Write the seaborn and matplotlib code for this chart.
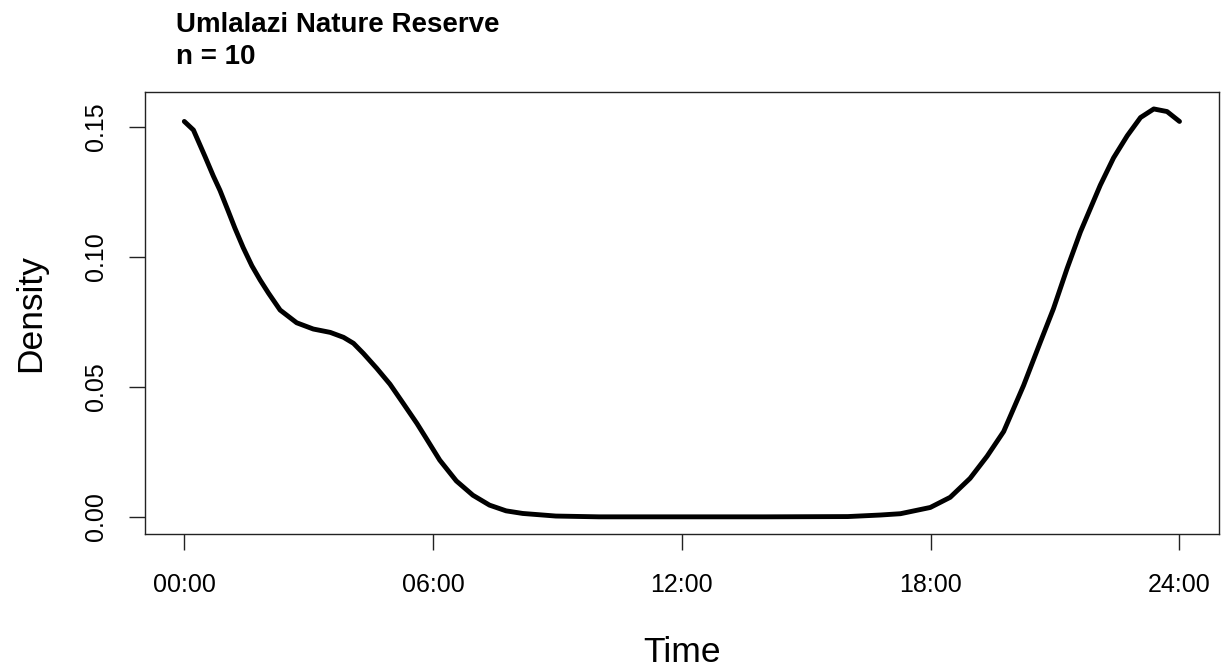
import numpy as np
import pandas as pd
import seaborn as sns
import matplotlib
matplotlib.use("Agg")
import matplotlib.pyplot as plt

# ---- data ----
hours = [0.00, 0.22, 0.50, 0.70, 0.86, 1.06, 1.22, 1.42, 1.63, 1.83, 2.03, 2.31,
         2.71, 3.11, 3.52, 3.84, 4.08, 4.32, 4.64, 4.96, 5.28, 5.61, 5.81, 6.16,
         6.56, 6.96, 7.36, 7.76, 8.16, 8.96, 10.0, 12.0, 14.0, 16.0, 16.79, 17.27,
         17.99, 18.47, 18.95, 19.36, 19.76, 20.24, 20.64, 20.96, 21.29, 21.61,
         21.85, 22.09, 22.41, 22.74, 23.06, 23.38, 23.70, 24.00]
density = [0.1520, 0.1487, 0.1385, 0.1310, 0.1255, 0.1175, 0.1110, 0.1035, 0.0965,
           0.0910, 0.0860, 0.0795, 0.0746, 0.0722, 0.0709, 0.0690, 0.0667, 0.0628,
           0.0571, 0.0510, 0.0436, 0.0359, 0.0308, 0.0218, 0.0138, 0.0083, 0.0045,
           0.0023, 0.0013, 0.0003, 0.0000, 0.0000, 0.0000, 0.0001, 0.0007, 0.0012,
           0.0036, 0.0075, 0.0148, 0.0233, 0.0328, 0.0505, 0.0670, 0.0800, 0.0955,
           0.1095, 0.1185, 0.1275, 0.1380, 0.1465, 0.1535, 0.1568, 0.1558, 0.1520]
xticks = [0, 6, 12, 18, 24]
xtick_labels = ["00:00", "06:00", "12:00", "18:00", "24:00"]
yticks = [0.00, 0.05, 0.10, 0.15]
ytick_labels = ["0.00", "0.05", "0.10", "0.15"]
title_line1 = "Umlalazi Nature Reserve"
title_line2 = "n = 10"

df = pd.DataFrame({"Time": hours, "Density": density})

sns.set_theme(style="white")
plt.rcParams["font.family"] = ["Liberation Sans", "DejaVu Sans"]
plt.rcParams["text.color"] = "black"
plt.rcParams["axes.labelcolor"] = "black"

W, H = 1223, 670
fig = plt.figure(figsize=(W / 100, H / 100), dpi=100)
fig.patch.set_facecolor("white")
left, right, top, bottom = 144.5, 1219.3, 92.3, 534.0
ax = fig.add_axes([left / W, 1 - bottom / H, (right - left) / W, (bottom - top) / H])
ax.set_facecolor("white")

sns.lineplot(data=df, x="Time", y="Density", sort=False, color="black",
             linewidth=3.5, ax=ax)

ax.set_xlim(-0.96, 24.96)
ax.set_ylim(-0.0066, 0.1632)
ax.set_xticks(xticks)
ax.set_xticklabels(xtick_labels)
ax.set_yticks(yticks)
ax.set_yticklabels(ytick_labels)

for s in ax.spines.values():
    s.set_visible(True)
    s.set_color("#222222")
    s.set_linewidth(1.0)

ax.tick_params(axis="both", which="major", direction="out", length=11.5,
               width=1.0, color="#222222", labelsize=18, labelcolor="black",
               bottom=True, left=True)
ax.tick_params(axis="x", pad=16.5)
ax.tick_params(axis="y", pad=14.5)
for lab in ax.get_yticklabels():
    lab.set_rotation(90)
    lab.set_va("center")
    lab.set_ha("right")

ax.set_xlabel("Time", fontsize=25.5)
ax.xaxis.label.set_va("baseline")
ax.xaxis.set_label_coords(0.5, (bottom - 661.7) / (bottom - top))
ax.set_ylabel("Density", fontsize=25.5)
ax.yaxis.label.set_va("center")
ax.yaxis.set_label_coords((31 - left) / (right - left), 0.5)

fig.text(175.7 / W, 1 - 31.5 / H, title_line1, fontsize=20, fontweight="bold",
         ha="left", va="baseline", color="black")
fig.text(175.7 / W, 1 - 64.5 / H, title_line2, fontsize=20, fontweight="bold",
         ha="left", va="baseline", color="black")

fig.savefig("out.png", dpi=100, facecolor="white")
